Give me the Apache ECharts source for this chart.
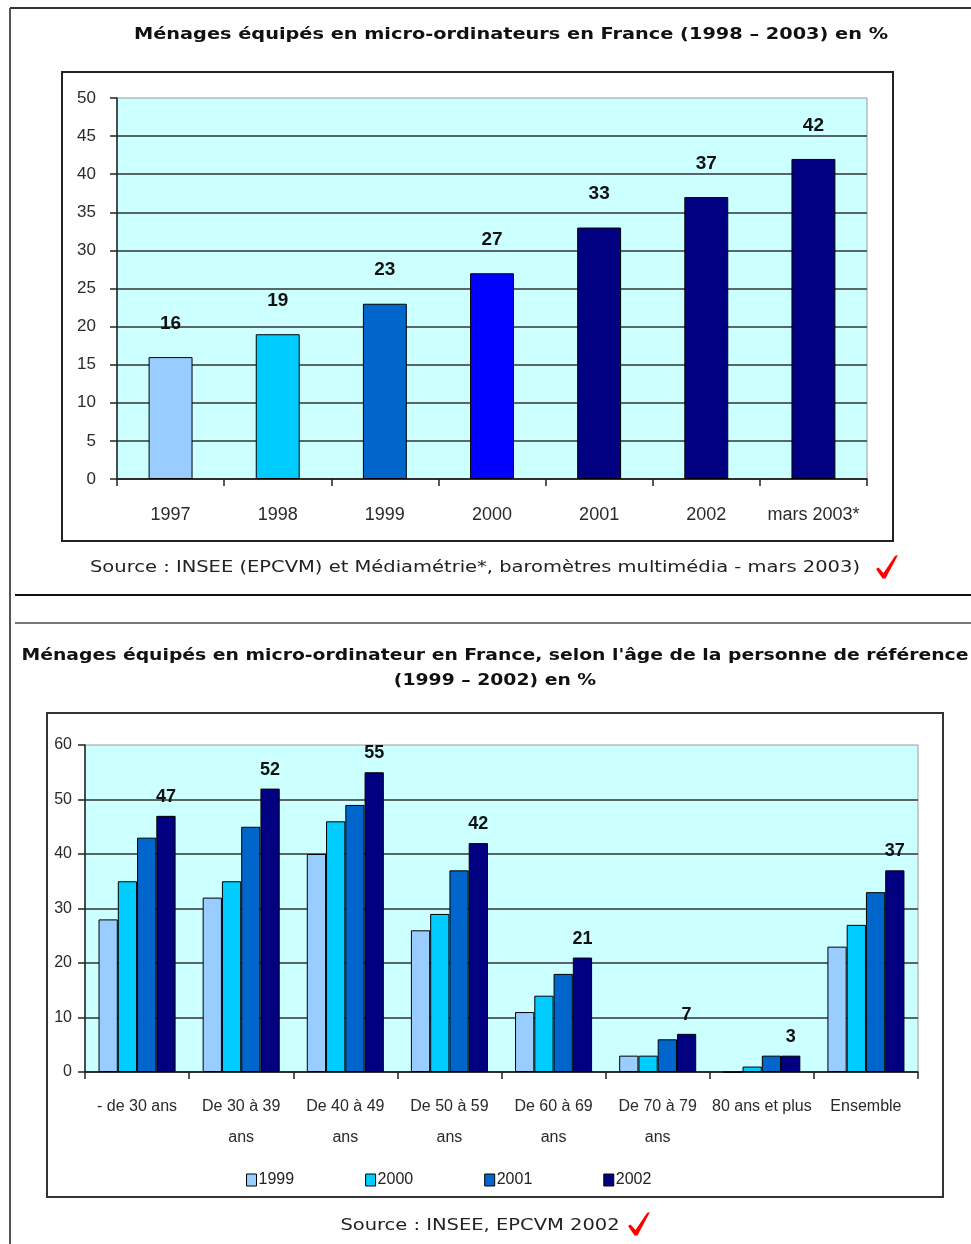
<!DOCTYPE html>
<html>
<head>
<meta charset="utf-8">
<title>Ménages équipés en micro-ordinateurs en France</title>
<script src="https://cdn.jsdelivr.net/npm/echarts@6/dist/echarts.min.js"></script>
<style>
  html, body { margin: 0; padding: 0; background: #ffffff; }
  #chart { width: 971px; height: 1244px; }
</style>
</head>
<body>
<div id="chart"></div>
<script>
// ---- Chart 1: household equipment by year ----
const yearCategories = ['1997', '1998', '1999', '2000', '2001', '2002', 'mars 2003*'];
const yearValues = [16, 19, 23, 27, 33, 37, 42];
const yearColors = ['#99CCFF', '#00CCFF', '#0066CC', '#0000FF', '#000080', '#000080', '#000080'];

// ---- Chart 2: household equipment by age of the reference person ----
const ageCategories = [
  '- de 30 ans', 'De 30 à 39\nans', 'De 40 à 49\nans', 'De 50 à 59\nans',
  'De 60 à 69\nans', 'De 70 à 79\nans', '80 ans et plus', 'Ensemble'
];
const ageSeriesNames = ['1999', '2000', '2001', '2002'];
const age1999 = [28, 32, 40, 26, 11, 3, 0, 23];
const age2000 = [35, 35, 46, 29, 14, 3, 1, 27];
const age2001 = [43, 45, 49, 37, 18, 6, 3, 33];
const age2002 = [47, 52, 55, 42, 21, 7, 3, 37];
const ageColors = ['#99CCFF', '#00CCFF', '#0066CC', '#000080'];

// ---- Texts ----
const title1 = 'Ménages équipés en micro-ordinateurs en France (1998 – 2003) en %';
const source1 = 'Source : INSEE (EPCVM) et Médiamétrie*, baromètres multimédia - mars 2003)';
const title2a = "Ménages équipés en micro-ordinateur en France, selon l'âge de la personne de référence";
const title2b = '(1999 – 2002) en %';
const source2 = 'Source : INSEE, EPCVM 2002';

const AXIS_FONT = '"Liberation Sans", Arial, sans-serif';
const VALUE_FONT = '"Liberation Sans Narrow", "Arial Narrow", "Liberation Sans", Arial, sans-serif';
const TITLE_FONT = '"DejaVu Sans", Verdana, Tahoma, sans-serif';

// horizontal stretch factor so a text spans a given width
const measureCtx = document.createElement('canvas').getContext('2d');
function stretchTo(text, font, width) {
  measureCtx.font = font;
  return width / measureCtx.measureText(text).width;
}

const titleFont = 'bold 16px ' + TITLE_FONT;
const sourceFont = '16px ' + TITLE_FONT;
const title1Scale = stretchTo(title1, titleFont, 754);
const title2Scale = stretchTo(title2a, titleFont, 947);
const sourceScale = stretchTo(source1, sourceFont, 770);

function textEl(text, x, y, font, scaleX, color) {
  return {
    type: 'text', x: x, y: y, scaleX: scaleX, z: 10,
    style: { text: text, font: font, fill: color || '#111', align: 'center', verticalAlign: 'middle' }
  };
}
function lineEl(x1, y1, x2, y2, color, width) {
  return {
    type: 'line', z: 5,
    shape: { x1: x1, y1: y1, x2: x2, y2: y2 },
    style: { stroke: color, lineWidth: width }
  };
}
function boxEl(x, y, w, h, color) {
  return {
    type: 'rect', z: 0,
    shape: { x: x, y: y, width: w, height: h },
    style: { fill: 'none', stroke: color, lineWidth: 2 }
  };
}
function checkEl(x, y) {
  return {
    type: 'polygon', x: x, y: y, z: 10,
    shape: { points: [[0, 14], [2.5, 12.5], [7.5, 18], [19, 1], [22, 0], [9.5, 23.5], [6.5, 23.5]] },
    style: { fill: '#FF0000' }
  };
}

const axisLabelBase = { color: '#2a2a2a', fontFamily: AXIS_FONT };

const chart = echarts.init(document.getElementById('chart'), null, { renderer: 'canvas' });

const option = {
  backgroundColor: '#ffffff',
  animation: false,
  grid: [
    { left: 117, top: 98, width: 750, height: 381, show: true, backgroundColor: '#CCFFFF',
      borderColor: '#9a9a9a', borderWidth: 1, containLabel: false, outerBoundsMode: 'none' },
    { left: 85, top: 745, width: 833, height: 327, show: true, backgroundColor: '#CCFFFF',
      borderColor: '#9a9a9a', borderWidth: 1, containLabel: false, outerBoundsMode: 'none' }
  ],
  xAxis: [
    {
      type: 'category', gridIndex: 0, data: yearCategories,
      axisLine: { show: true, lineStyle: { color: '#222', width: 1.5 } },
      axisTick: { show: true, inside: false, length: 7, lineStyle: { color: '#222', width: 1.5 } },
      axisLabel: Object.assign({}, axisLabelBase, { fontSize: 18, margin: 27, interval: 0 }),
      splitLine: { show: false }
    },
    {
      type: 'category', gridIndex: 1, data: ageCategories,
      axisLine: { show: true, lineStyle: { color: '#222', width: 1.5 } },
      axisTick: { show: true, inside: false, length: 7, lineStyle: { color: '#222', width: 1.5 } },
      axisLabel: Object.assign({}, axisLabelBase, { fontSize: 16, lineHeight: 31, margin: 19, interval: 0 }),
      splitLine: { show: false }
    }
  ],
  yAxis: [
    {
      type: 'value', gridIndex: 0, min: 0, max: 50, interval: 5,
      axisLine: { show: true, lineStyle: { color: '#222', width: 1.5 } },
      axisTick: { show: true, inside: false, length: 7, lineStyle: { color: '#222', width: 1.5 } },
      axisLabel: Object.assign({}, axisLabelBase, { fontSize: 17, margin: 21 }),
      splitLine: { show: true, showMaxLine: false, lineStyle: { color: '#333', width: 1.5 } }
    },
    {
      type: 'value', gridIndex: 1, min: 0, max: 60, interval: 10,
      axisLine: { show: true, lineStyle: { color: '#222', width: 1.5 } },
      axisTick: { show: true, inside: false, length: 7, lineStyle: { color: '#222', width: 1.5 } },
      axisLabel: Object.assign({}, axisLabelBase, { fontSize: 16, margin: 13 }),
      splitLine: { show: true, showMaxLine: false, lineStyle: { color: '#333', width: 1.5 } }
    }
  ],
  legend: {
    show: true,
    data: ageSeriesNames,
    left: 246, top: 1172,
    orient: 'horizontal',
    icon: 'rect',
    itemWidth: 10, itemHeight: 12, itemGap: 71,
    padding: 0,
    itemStyle: { borderColor: '#000', borderWidth: 1 },
    textStyle: { color: '#222', fontSize: 16, fontFamily: AXIS_FONT, padding: [0, 0, 0, -3] }
  },
  series: [
    {
      type: 'bar', name: 'Ménages équipés', xAxisIndex: 0, yAxisIndex: 0,
      barWidth: '41%',
      data: yearValues.map((v, i) => ({ value: v, itemStyle: { color: yearColors[i] } })),
      itemStyle: { borderColor: '#000', borderWidth: 1 },
      label: {
        show: true, position: 'top', distance: 24,
        color: '#111', fontWeight: 'bold', fontSize: 19, fontFamily: VALUE_FONT
      }
    }
  ].concat([age1999, age2000, age2001, age2002].map((vals, i) => ({
    type: 'bar', name: ageSeriesNames[i], xAxisIndex: 1, yAxisIndex: 1,
    barGap: '0%', barCategoryGap: '26%',
    data: vals,
    itemStyle: { color: ageColors[i], borderColor: '#000', borderWidth: 1 },
    label: {
      show: i === 3, position: 'top', distance: 10,
      color: '#111', fontWeight: 'bold', fontSize: 18, fontFamily: VALUE_FONT
    }
  }))),
  graphic: [
    // page frame and separators
    lineEl(10, 8, 971, 8, '#333', 2),
    lineEl(10, 8, 10, 1244, '#555', 2),
    lineEl(15, 595, 971, 595, '#111', 2),
    lineEl(15, 623, 971, 623, '#777', 2),
    // chart frames
    boxEl(62, 72, 831, 469, '#222'),
    boxEl(47, 713, 896, 484, '#333'),
    // titles and sources
    textEl(title1, 511, 35, titleFont, title1Scale),
    textEl(source1, 475, 568, sourceFont, sourceScale, '#222'),
    checkEl(876, 555),
    textEl(title2a, 495, 656, titleFont, title2Scale),
    textEl(title2b, 495, 681, titleFont, title2Scale),
    textEl(source2, 480, 1226, sourceFont, sourceScale, '#222'),
    checkEl(628, 1212)
  ]
};

chart.setOption(option);
</script>
</body>
</html>
